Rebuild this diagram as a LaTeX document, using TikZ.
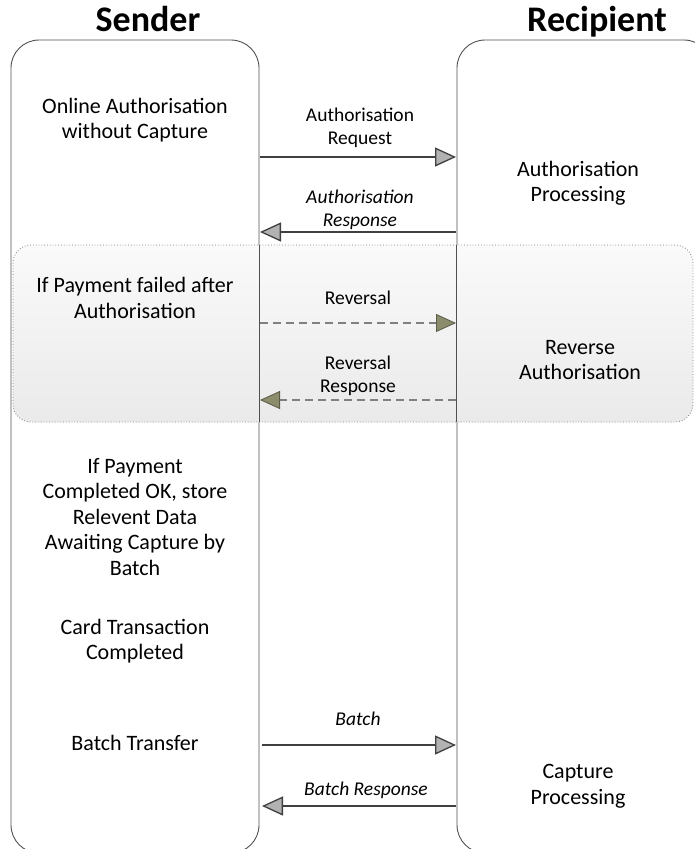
\documentclass[tikz,border=0pt]{standalone}
\usepackage{fontspec}
\setmainfont{Carlito}
\usetikzlibrary{arrows.meta,shadings}
\definecolor{lanegray}{RGB}{80,80,80}
\definecolor{arrowdark}{RGB}{64,64,64}
\definecolor{dashgray}{RGB}{128,128,128}
\definecolor{olivetip}{RGB}{138,140,108}
\definecolor{olivedark}{RGB}{90,92,70}
\definecolor{bandtop}{RGB}{250,250,250}
\definecolor{bandbot}{RGB}{234,234,234}
\tikzset{
  lanebox/.style={draw=lanegray, line width=0.9pt, rounded corners=28pt, inner sep=0pt},
  laneline/.style={draw=lanegray, line width=0.9pt},
  bandbox/.style={draw=gray, dotted, line width=0.8pt, rounded corners=18pt, top color=bandtop, bottom color=bandbot, inner sep=0pt},
  titletext/.style={font=\fontsize{36}{40}\selectfont\bfseries, inner sep=0pt, anchor=base},
  maintext/.style={font=\fontsize{22}{25.5}\selectfont, align=center, inner sep=0pt},
  msgtext/.style={font=\fontsize{19.5}{23}\selectfont, align=center, inner sep=0pt},
  msgital/.style={font=\fontsize{19.5}{23}\selectfont\itshape, align=center, inner sep=0pt},
  solidmsg/.style={draw=arrowdark, line width=2.8pt, -{Triangle[length=21pt,width=19pt,line width=1.3pt,fill=gray!60]}},
  dashmsg/.style={draw=dashgray, line width=1.3pt, dash pattern=on 8pt off 5pt, -{Triangle[length=20pt,width=18pt,line width=0.8pt,fill=olivetip,color=olivedark]}},
}
\begin{document}
\begin{tikzpicture}[x=1pt,y=-1pt]
\useasboundingbox (0,0) rectangle (694,849);
\fill[white] (0,0) rectangle (694,849);
% lanes
\node[lanebox, minimum width=248pt, minimum height=813pt] (sender) at (135,446.5) {};
\node[lanebox, minimum width=255pt, minimum height=813pt] (recip) at (584.5,446.5) {};
% band
\node[bandbox, minimum width=680pt, minimum height=177pt] (band) at (353,333.5) {};
\draw[laneline] (sender.east |- band.north) -- (sender.east |- band.south);
\draw[laneline] (recip.west |- band.north) -- (recip.west |- band.south);
% titles
\node[titletext] (tsender) at (148,31) {Sender};
\node[titletext] (trecip) at (597,31) {Recipient};
% left texts
\node[maintext] (online) at (135,120) {Online Authorisation\\without Capture};
\node[maintext] (failed) at (135,298) {If Payment failed after\\Authorisation};
\node[maintext] (stored) at (135,517) {If Payment\\Completed OK, store\\Relevent Data\\Awaiting Capture by\\Batch};
\node[maintext] (card) at (135,641) {Card Transaction\\Completed};
\node[maintext] (btrans) at (135,743) {Batch Transfer};
% right texts
\node[maintext] (authp) at (578,183) {Authorisation\\Processing};
\node[maintext] (reva) at (580,360) {Reverse\\Authorisation};
\node[maintext] (capt) at (578,786) {Capture\\Processing};
% message labels
\node[msgtext] (lreq) at (360,128) {Authorisation\\Request};
\node[msgital] (lresp) at (360,210) {Authorisation\\Response};
\node[msgtext] (lrev) at (358,298) {Reversal};
\node[msgtext] (lrevr) at (358,376) {Reversal\\Response};
\node[msgital] (lbatch) at (358,719) {Batch};
\node[msgital] (lbresp) at (366,790) {Batch Response};
% connector end points
\coordinate (s1) at (260,157);
\coordinate (r1) at (456,157);
\coordinate (r2) at (456,232);
\coordinate (s2) at (260,232);
\coordinate (s3) at (260,323);
\coordinate (r3) at (456,323);
\coordinate (r4) at (456,400);
\coordinate (s4) at (260,400);
\coordinate (s5) at (262,745);
\coordinate (r5) at (456,745);
\coordinate (r6) at (456,806);
\coordinate (s6) at (262,806);
% messages
\draw[solidmsg] (s1) -- (r1);
\draw[solidmsg] (r2) -- (s2);
\draw[dashmsg] (s3) -- (r3);
\draw[dashmsg] (r4) -- (s4);
\draw[solidmsg] (s5) -- (r5);
\draw[solidmsg] (r6) -- (s6);
\end{tikzpicture}
\end{document}
